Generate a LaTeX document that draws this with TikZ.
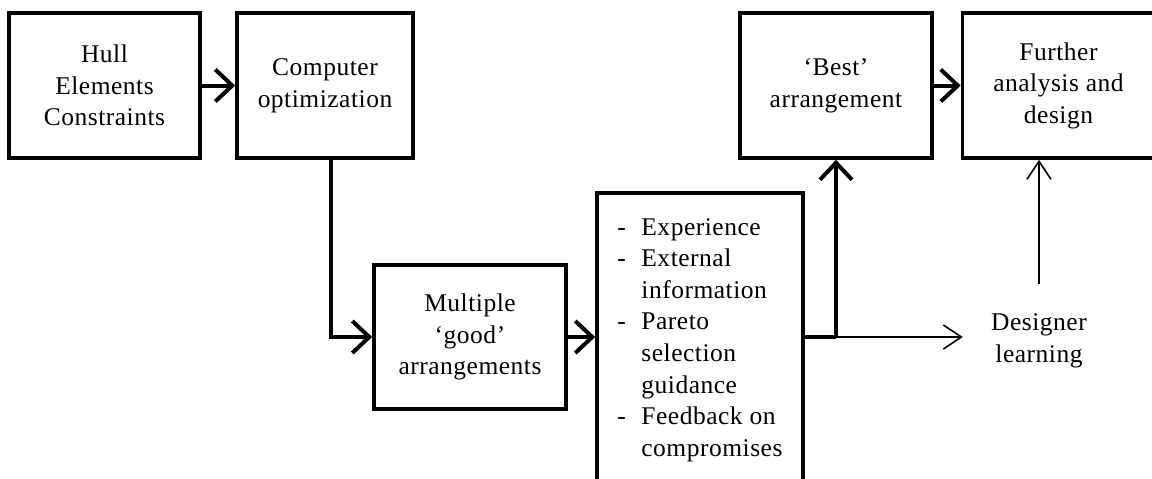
\documentclass[tikz,border=0pt]{standalone}
\usepackage{fontspec}
\setmainfont{Liberation Serif}[LetterSpace=2]
\usetikzlibrary{arrows.meta}
\tikzset{
  box/.style={draw, line width=1.8pt, rectangle, align=center, inner sep=0pt,
    minimum height=72.5pt, font=\fontsize{12.75}{15.8}\selectfont},
  thickarrow/.style={line width=2pt, -{Straight Barb[length=8.5pt, width=16pt, line width=2pt]}},
  thickline/.style={line width=2pt},
  thinarrow/.style={line width=0.8pt, -{Straight Barb[length=9pt, width=12pt, line width=0.8pt]}},
  thinline/.style={line width=0.8pt},
  plain/.style={align=center, font=\fontsize{12.75}{15.8}\selectfont}
}
\begin{document}
\begin{tikzpicture}[x=0.5pt,y=-0.5pt]
\useasboundingbox (0,0) rectangle (1152,478);
\clip (0,0) rectangle (1152,478);
\node[box, minimum width=95.5pt] (hull) at (104.5,85.5) {Hull\\Elements\\Constraints};
\node[box, minimum width=88pt] (comp) at (325,85.5) {Computer\\optimization};
\node[box, minimum width=96pt, minimum height=72pt] (multi) at (470,337) {Multiple\\‘good’\\arrangements};
\node[box, minimum width=103pt, minimum height=155pt] (list) at (700,348) {};
\node[anchor=base west, inner sep=0pt, font=\fontsize{12.75}{15.8}\selectfont] (items) at (617,235)
  {\begin{tabular}[t]{@{}p{12pt}@{}l@{}}
   - & Experience\\
   - & External\\
     & information\\
   - & Pareto\\
     & selection\\
     & guidance\\
   - & Feedback on\\
     & compromises
   \end{tabular}};
\node[box, minimum width=96pt] (best) at (836,85.5) {‘Best’\\arrangement};
\node[box, minimum width=96pt] (further) at (1058.5,85.5) {Further\\analysis and\\design};
\node[plain, inner xsep=14pt, inner ysep=15pt] (dl) at (1039,341) {Designer\\learning};
\coordinate (j) at (best.south |- multi.east);
\draw[thickarrow] (hull.east) -- (comp.west);
\draw[thickarrow] (comp.south -| 331,0) |- (multi.west);
\draw[thickarrow] (multi.east) -- (multi.east -| list.west);
\draw[thickline] (list.east |- j) -- (j);
\draw[thickarrow] (j) -- (best.south);
\draw[thickarrow] (best.east) -- (further.west);
\draw[thinarrow] (j) -- (j -| dl.west);
\draw[thinarrow] (dl.north) -- (dl.north |- further.south);
\end{tikzpicture}
\end{document}
